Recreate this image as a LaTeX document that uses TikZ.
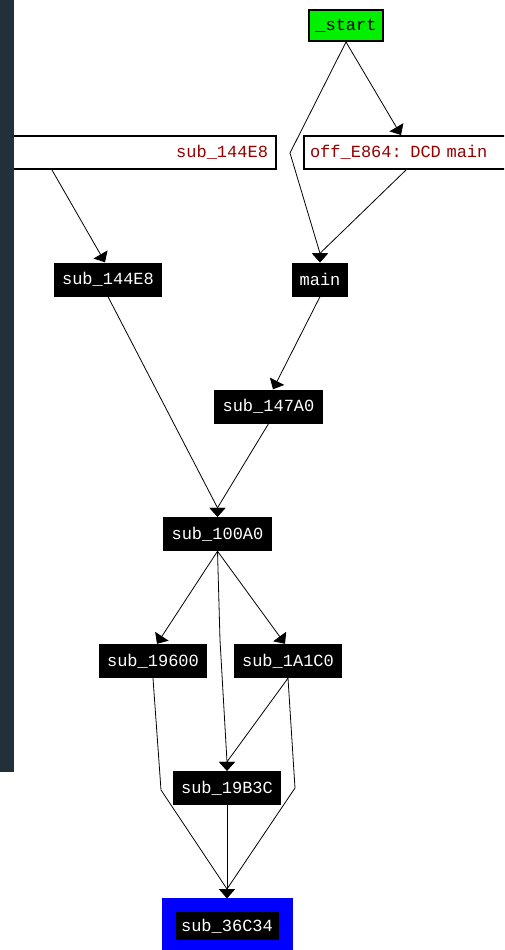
\documentclass[tikz,border=0pt]{standalone}
\usepackage{fontspec}
\newfontfamily\codefont{Liberation Mono}
\usetikzlibrary{arrows.meta}
\definecolor{panel}{HTML}{22303A}
\definecolor{entrygreen}{HTML}{00F000}
\definecolor{refred}{HTML}{960000}
\tikzset{
  fn/.style={rectangle, fill=black, text=white, inner sep=0pt,
    minimum height=34pt, font=\codefont\fontsize{17}{20}\selectfont},
  entry/.style={fn, fill=entrygreen, text=black, draw=black, line width=2pt},
  xref/.style={rectangle, fill=white, draw=black, line width=2pt, text=refred,
    minimum height=33pt, inner ysep=0pt, font=\codefont\fontsize{17}{20}\selectfont},
  current/.style={fn, draw=blue, line width=14pt},
  edge/.style={draw=black, line width=0.8pt, -{Triangle[width=16pt,length=9pt]}},
}
\begin{document}
\begin{tikzpicture}[x=1pt,y=-1pt]
  \useasboundingbox (0,0) rectangle (504,950);
  \clip (0,0) rectangle (504,950);
  \fill[white] (0,0) rectangle (504,950);

  % call graph nodes
  \node[entry, minimum width=74pt, minimum height=31pt] (start) at (346,25.5) {\_start};
  \node[xref, text width=274pt, align=right, inner xsep=8pt] (xref144) at (131,152.5) {sub\_144E8};
  \node[xref, text width=213pt, align=left, inner xsep=6pt] (off) at (416.5,152.5) {off\_E864: DCD main};
  \node[fn, minimum width=108pt] (s144) at (108,279.5) {sub\_144E8};
  \node[fn, minimum width=56pt] (main) at (320,279.5) {main};
  \node[fn, minimum width=109pt] (s147) at (268.5,406.5) {sub\_147A0};
  \node[fn, minimum width=109pt] (s100) at (217.5,534) {sub\_100A0};
  \node[fn, minimum width=108pt] (s196) at (153,661) {sub\_19600};
  \node[fn, minimum width=108pt] (s1a1) at (288,661) {sub\_1A1C0};
  \node[fn, minimum width=108pt] (s19b) at (227,788) {sub\_19B3C};
  \node[current, minimum width=117pt, minimum height=42pt] (s36) at (227,926) {sub\_36C34};

  % bend points of routed edges
  \coordinate (bStart) at (290,153);
  \coordinate (bDown) at (220,640);
  \coordinate (bRight) at (295,788);
  \coordinate (bLeft) at (161,790);

  % merge points just above nodes with several callers
  \coordinate (mMain) at ([yshift=9pt]main.north);
  \coordinate (m100) at ([yshift=9pt]s100.north);
  \coordinate (m19b) at ([yshift=9pt]s19b.north);
  \coordinate (m36) at ([yshift=9pt]s36.north);

  % edges
  \draw[edge] (start.south) -- ([xshift=98pt]off.north west);
  \draw[edge] (start.south) -- (bStart) -- (mMain) -- (main.north);
  \draw[edge] ([xshift=103pt]off.south west) -- (mMain) -- (main.north);
  \draw[edge] ([xshift=67pt]xref144.south west) -- ([xshift=-3pt]s144.north);
  \draw[edge] (s144.south) -- (m100) -- (s100.north);
  \draw[edge] (main.south) -- ([xshift=4.5pt]s147.north);
  \draw[edge] (s147.south) -- (m100) -- (s100.north);
  \draw[edge] (s100.south) -- ([xshift=4pt]s196.north);
  \draw[edge] (s100.south) -- (bDown) -- (m19b) -- (s19b.north);
  \draw[edge] (s100.south) -- ([xshift=-3pt]s1a1.north);
  \draw[edge] (s1a1.south) -- (m19b) -- (s19b.north);
  \draw[edge] (s1a1.south) -- (bRight) -- (m36) -- (s36.north);
  \draw[edge] (s196.south) -- (bLeft) -- (m36) -- (s36.north);
  \draw[edge] (s19b.south) -- (s36.north);

  % side panel strip
  \fill[panel] (0,0) rectangle (14,772);
\end{tikzpicture}
\end{document}
